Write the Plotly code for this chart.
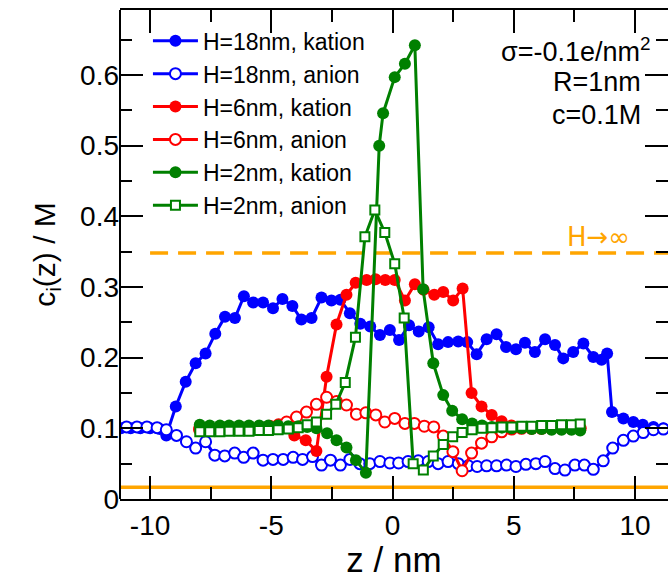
import plotly.graph_objects as go

# ---------------- data ----------------
# H = 18 nm
z_h18_kat = [-11.2, -10.8, -10.4, -10.0, -9.6, -9.33, -8.94, -8.53, -8.12, -7.71,
             -7.31, -6.91, -6.50, -6.13, -5.75, -5.34, -4.93, -4.54, -4.13, -3.76,
             -3.34, -2.93, -2.52, -2.15, -1.76, -1.33, -0.92, -0.52, -0.11, 0.27,
             0.68, 1.08, 1.49, 1.88, 2.29, 2.71, 3.08, 3.47, 3.88, 4.29,
             4.68, 5.09, 5.46, 5.87, 6.29, 6.70, 7.04, 7.45, 7.87, 8.28,
             8.62, 8.85, 9.05, 9.52, 9.93, 10.32, 10.76, 11.17]
c_h18_kat = [0.100, 0.100, 0.100, 0.100, 0.099, 0.090, 0.131, 0.166, 0.192, 0.206,
             0.234, 0.258, 0.256, 0.287, 0.278, 0.278, 0.270, 0.283, 0.273, 0.254,
             0.256, 0.285, 0.281, 0.282, 0.263, 0.248, 0.244, 0.232, 0.239, 0.225,
             0.246, 0.237, 0.243, 0.219, 0.222, 0.223, 0.222, 0.205, 0.226, 0.233,
             0.215, 0.212, 0.221, 0.208, 0.226, 0.218, 0.199, 0.208, 0.220, 0.201,
             0.197, 0.206, 0.123, 0.114, 0.109, 0.105, 0.102, 0.100]

z_h18_an = [-10.97, -10.54, -10.13, -9.71, -9.33, -8.91, -8.50, -8.12, -7.71, -7.33,
            -6.92, -6.51, -6.14, -5.75, -5.34, -4.93, -4.51, -4.10, -3.71, -3.30,
            -2.93, -2.56, -2.15, -1.76, -1.35, -0.94, -0.52, -0.11, 0.25, 0.64,
            1.06, 1.47, 1.88, 2.29, 2.71, 3.12, 3.49, 3.88, 4.29, 4.70,
            5.09, 5.50, 5.91, 6.29, 6.70, 7.11, 7.52, 7.91, 8.28, 8.69,
            9.08, 9.52, 9.93, 10.34, 10.76, 11.17]
c_h18_an = [0.102, 0.102, 0.102, 0.101, 0.098, 0.090, 0.081, 0.072, 0.081, 0.062,
            0.061, 0.065, 0.059, 0.065, 0.055, 0.056, 0.056, 0.059, 0.056, 0.060,
            0.048, 0.055, 0.048, 0.056, 0.050, 0.050, 0.053, 0.051, 0.051, 0.053,
            0.054, 0.053, 0.050, 0.053, 0.050, 0.047, 0.046, 0.047, 0.047, 0.048,
            0.046, 0.049, 0.050, 0.053, 0.043, 0.041, 0.048, 0.048, 0.042, 0.054,
            0.072, 0.083, 0.089, 0.094, 0.098, 0.099]

# H = 6 nm
z_h6_kat = [-7.98, -7.53, -7.12, -6.71, -6.30, -5.89, -5.48, -5.07, -4.65, -4.05,
            -3.58, -3.14, -2.72, -2.31, -1.90, -1.52, -1.07, -0.70, -0.30, 0.09,
            0.51, 0.92, 1.28, 1.72, 2.09, 2.50, 2.89, 3.26, 3.67, 4.09,
            4.50, 4.91, 5.32, 5.73, 6.14, 6.55, 6.96, 7.37, 7.74]
c_h6_kat = [0.098, 0.100, 0.100, 0.101, 0.100, 0.100, 0.101, 0.100, 0.100, 0.090,
            0.083, 0.068, 0.173, 0.247, 0.289, 0.306, 0.310, 0.311, 0.310, 0.310,
            0.281, 0.304, 0.296, 0.289, 0.293, 0.281, 0.298, 0.150, 0.131, 0.119,
            0.110, 0.104, 0.101, 0.100, 0.100, 0.100, 0.100, 0.100, 0.100]

z_h6_an = [-7.95, -7.53, -7.12, -6.71, -6.30, -5.89, -5.48, -5.07, -4.70, -4.37,
           -3.96, -3.55, -3.14, -2.72, -2.31, -1.90, -1.49, -1.10, -0.69, -0.32,
           0.09, 0.51, 0.90, 1.31, 1.70, 2.09, 2.49, 2.87, 3.26, 3.67,
           4.09, 4.50, 4.91, 5.32, 5.73, 6.14, 6.55, 6.96, 7.37, 7.74]
c_h6_an = [0.100, 0.100, 0.101, 0.100, 0.101, 0.101, 0.102, 0.103, 0.105, 0.109,
           0.116, 0.123, 0.134, 0.144, 0.138, 0.133, 0.120, 0.122, 0.119, 0.109,
           0.114, 0.107, 0.107, 0.103, 0.102, 0.089, 0.067, 0.040, 0.065, 0.079,
           0.088, 0.095, 0.099, 0.100, 0.100, 0.100, 0.100, 0.100, 0.100, 0.100]

# H = 2 nm
z_h2_kat = [-7.95, -7.54, -7.12, -6.74, -6.33, -5.92, -5.50, -5.12, -4.72, -4.30,
            -3.89, -3.52, -3.14, -2.70, -2.31, -1.90, -1.51, -1.10, -0.55, -0.39,
            0.09, 0.51, 0.92, 1.26, 1.68, 2.09, 2.46, 2.87, 3.28, 3.69,
            4.10, 4.51, 4.92, 5.33, 5.74, 6.15, 6.56, 6.97, 7.38, 7.74]
c_h2_kat = [0.105, 0.104, 0.104, 0.104, 0.104, 0.104, 0.104, 0.104, 0.104, 0.103,
            0.103, 0.102, 0.100, 0.093, 0.083, 0.073, 0.055, 0.037, 0.500, 0.546,
            0.597, 0.616, 0.642, 0.297, 0.192, 0.147, 0.125, 0.113, 0.107, 0.104,
            0.102, 0.101, 0.100, 0.100, 0.099, 0.099, 0.098, 0.098, 0.098, 0.097]

z_h2_an = [-7.95, -7.54, -7.12, -6.74, -6.33, -5.92, -5.50, -5.12, -4.72, -4.30,
           -3.89, -3.52, -3.14, -2.72, -2.34, -1.95, -1.53, -1.14, -0.73, -0.32,
           0.09, 0.48, 0.85, 1.27, 1.68, 2.09, 2.48, 2.87, 3.28, 3.69,
           4.10, 4.51, 4.92, 5.33, 5.74, 6.15, 6.56, 6.97, 7.38, 7.74]
c_h2_an = [0.095, 0.095, 0.095, 0.096, 0.096, 0.096, 0.097, 0.097, 0.098, 0.099,
           0.101, 0.105, 0.109, 0.120, 0.134, 0.165, 0.229, 0.371, 0.409, 0.377,
           0.333, 0.256, 0.050, 0.041, 0.061, 0.077, 0.088, 0.094, 0.098, 0.100,
           0.101, 0.102, 0.102, 0.103, 0.103, 0.104, 0.104, 0.105, 0.105, 0.106]

# H -> infinity reference levels
c_kation_inf = 0.348
c_anion_inf = 0.0165
z_inf_start = -10.0

x_tickvals = [-10, -5, 0, 5, 10]
x_ticktext = ["-10", "-5", "0", "5", "10"]
x_range = [-11.24, 11.36]
y_range = [0, 0.692]

BLUE = "#0000FF"
RED = "#FF0000"
GREEN = "#008000"
ORANGE = "#FFA500"
FONT = "Liberation Sans, Arial, Helvetica, sans-serif"

fig = go.Figure()

# dashed H->inf kation level (behind data)
fig.add_trace(go.Scatter(
    x=[z_inf_start, x_range[1]], y=[c_kation_inf, c_kation_inf], mode="lines",
    line=dict(color=ORANGE, width=3.5, dash="18px,10px"),
    showlegend=False, hoverinfo="skip"))
fig.add_hline(y=c_anion_inf, line=dict(color=ORANGE, width=3.5), layer="below")


def filled(color, size=12):
    return dict(symbol="circle", size=size, color=color, line=dict(width=0))


def hollow(color, symbol="circle", size=11):
    return dict(symbol=symbol, size=size, color="white", line=dict(color=color, width=2))


series = [
    ("H=18nm, kation", z_h18_kat, c_h18_kat, BLUE, filled(BLUE)),
    ("H=18nm, anion", z_h18_an, c_h18_an, BLUE, hollow(BLUE)),
    ("H=6nm, kation", z_h6_kat, c_h6_kat, RED, filled(RED)),
    ("H=6nm, anion", z_h6_an, c_h6_an, RED, hollow(RED)),
    ("H=2nm, kation", z_h2_kat, c_h2_kat, GREEN, filled(GREEN)),
    ("H=2nm, anion", z_h2_an, c_h2_an, GREEN, hollow(GREEN, "square", 9)),
]

for name, zz, cc, col, mk in series:
    fig.add_trace(go.Scatter(
        x=zz, y=cc, mode="lines+markers", name=name,
        line=dict(color=col, width=3), marker=mk))

fig.add_annotation(x=0.973, y=0.918, xref="paper", yref="paper",
                   text="σ=-0.1e/nm<sup>2</sup>", showarrow=False,
                   xanchor="right", yanchor="middle",
                   font=dict(size=27, color="black", family=FONT))
fig.add_annotation(x=0.954, y=0.853, xref="paper", yref="paper",
                   text="R=1nm", showarrow=False,
                   xanchor="right", yanchor="middle",
                   font=dict(size=27, color="black", family=FONT))
fig.add_annotation(x=0.954, y=0.785, xref="paper", yref="paper",
                   text="c=0.1M", showarrow=False,
                   xanchor="right", yanchor="middle",
                   font=dict(size=27, color="black", family=FONT))
fig.add_annotation(x=9.88, y=0.371, xref="x", yref="y",
                   text="H→∞", showarrow=False,
                   xanchor="right", yanchor="middle",
                   font=dict(size=26, color=ORANGE, family="DejaVu Sans, sans-serif"))

# left axis line drawn as a shape so that no right frame line appears
fig.add_shape(type="line", xref="paper", yref="paper", x0=0, x1=0, y0=0, y1=1,
              line=dict(color="black", width=2), layer="above")

tick_common = dict(ticks="inside", ticklen=23, tickwidth=2, tickcolor="black",
                   tickfont=dict(size=28, color="black", family=FONT))

fig.update_layout(
    width=668, height=579,
    margin=dict(l=120, r=0, t=10, b=80),
    paper_bgcolor="white", plot_bgcolor="white",
    font=dict(family=FONT, color="black"),
    showlegend=True,
    legend=dict(x=0.051, y=0.981, xanchor="left", yanchor="top",
                bgcolor="rgba(0,0,0,0)", borderwidth=0,
                font=dict(size=23, color="black", family=FONT),
                itemwidth=45),
    xaxis=dict(range=x_range, tickmode="array", tickvals=x_tickvals, ticktext=x_ticktext,
               showgrid=False, zeroline=False, showline=True, linewidth=2,
               linecolor="black", mirror="ticks",
               minor=dict(ticks="inside", ticklen=12, tickwidth=2, tickcolor="black",
                          tick0=-7.5, dtick=5),
               title=dict(text="z / nm", font=dict(size=35, color="black", family=FONT)),
               **tick_common),
    yaxis=dict(range=y_range, tick0=0, dtick=0.1,
               showgrid=False, zeroline=False, showline=False, mirror="ticks",
               minor=dict(ticks="inside", ticklen=12, tickwidth=2, tickcolor="black",
                          dtick=0.05),
               title=dict(text="c<sub>i</sub>(z) / M", font=dict(size=30, color="black", family=FONT)),
               **tick_common),
)

fig.write_html("out.html")
